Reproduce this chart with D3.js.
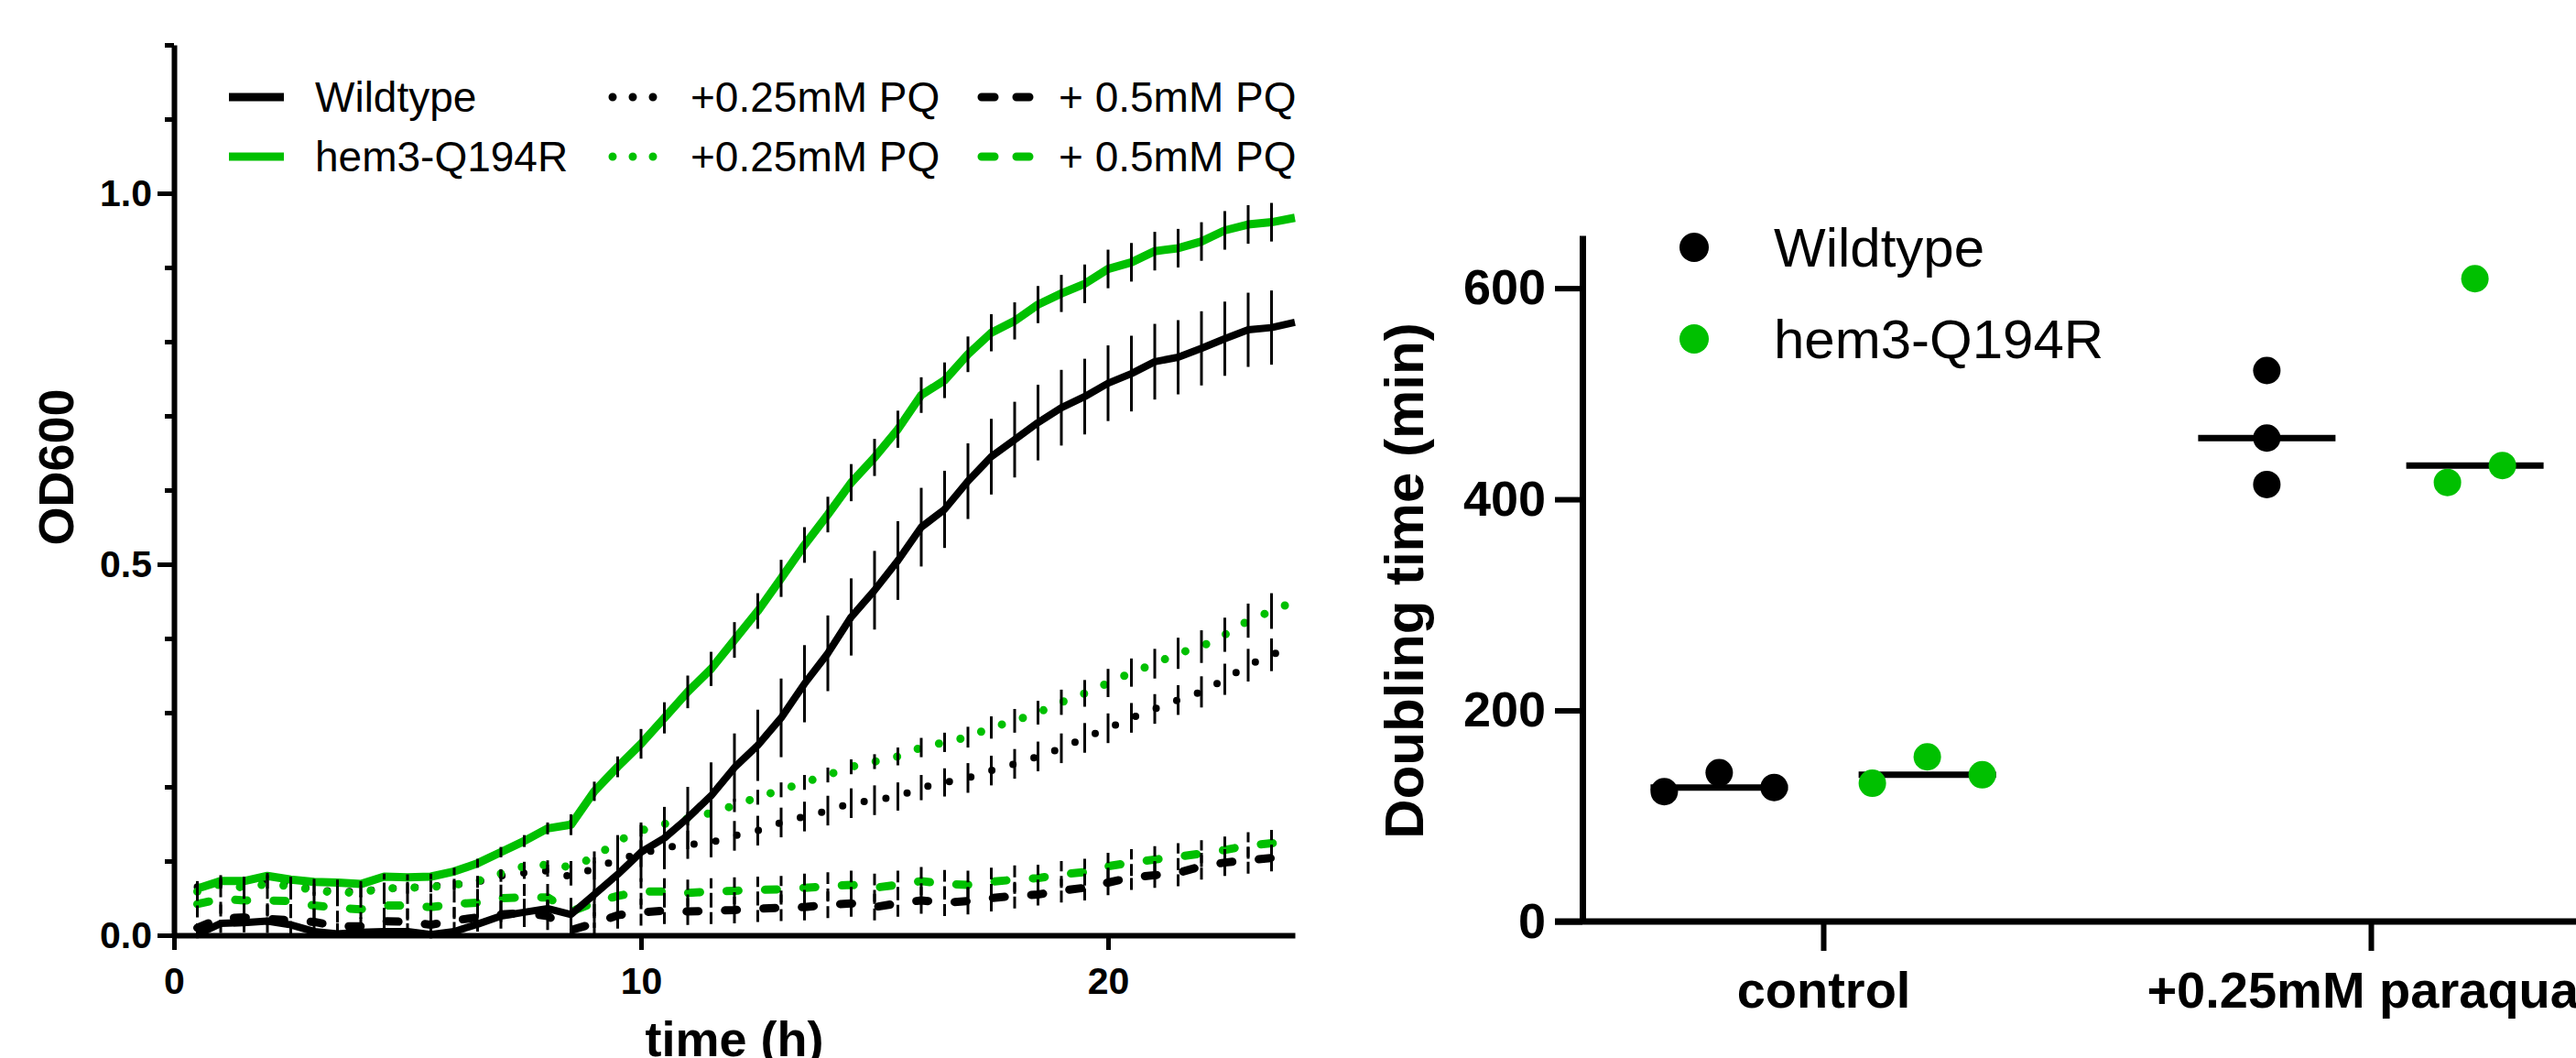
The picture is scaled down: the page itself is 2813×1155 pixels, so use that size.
<!DOCTYPE html>
<html>
<head>
<meta charset="utf-8">
<script src="https://cdn.jsdelivr.net/npm/d3@7"></script>
<style>
  body { margin: 0; background: #fff; }
  svg { display: block; font-family: "Liberation Sans", Arial, sans-serif; }
</style>
</head>
<body>
<svg id="chart" width="2813" height="1155"></svg>
<script>
// ---- growth curves (OD600 vs time) ----
var times = [0.5,1,1.5,2,2.5,3,3.5,4,4.5,5,5.5,6,6.5,7,7.5,8,8.5,9,9.5,10,10.5,11,11.5,12,
             12.5,13,13.5,14,14.5,15,15.5,16,16.5,17,17.5,18,18.5,19,19.5,20,20.5,21,21.5,22,22.5,23,23.5,24];

var wtOD = [0.001,0.016,0.017,0.019,0.014,0.005,0.002,0.004,0.005,0.005,0.001,0.005,0.015,0.026,0.031,0.036,0.028,
            0.055,0.082,0.112,0.131,0.158,0.188,0.226,0.256,0.293,0.339,0.380,0.429,0.465,0.505,0.550,0.574,0.612,
            0.645,0.668,0.691,0.711,0.726,0.744,0.757,0.773,0.779,0.791,0.804,0.816,0.819,0.826];
var wtErr = [0.005,0.005,0.005,0.005,0.005,0.005,0.005,0.005,0.005,0.005,0.005,0.005,0.005,0.008,0.010,0.012,0.020,
             0.045,0.046,0.040,0.042,0.042,0.045,0.046,0.048,0.053,0.052,0.051,0.052,0.053,0.053,0.053,0.052,0.051,
             0.051,0.051,0.051,0.051,0.051,0.051,0.051,0.051,0.050,0.050,0.050,0.050,0.050,0];

var hemOD = [0.063,0.073,0.073,0.080,0.075,0.072,0.071,0.069,0.079,0.078,0.079,0.086,0.097,0.112,0.127,0.144,0.149,
             0.194,0.227,0.258,0.293,0.328,0.359,0.398,0.437,0.481,0.526,0.567,0.610,0.644,0.682,0.728,0.748,0.783,
             0.812,0.828,0.850,0.865,0.878,0.898,0.907,0.922,0.926,0.935,0.950,0.958,0.961,0.967];
var hemErr = [0.004,0.004,0.004,0.004,0.004,0.004,0.004,0.004,0.004,0.004,0.004,0.005,0.006,0.007,0.008,0.008,0.014,
              0.013,0.014,0.020,0.021,0.022,0.023,0.024,0.024,0.025,0.024,0.024,0.025,0.025,0.025,0.024,0.024,0.024,
              0.025,0.025,0.025,0.025,0.026,0.026,0.026,0.026,0.026,0.026,0.026,0.026,0.026,0];

var wtPQ25 = [0.065,0.073,0.071,0.073,0.069,0.061,0.059,0.059,0.063,0.064,0.066,0.068,0.072,0.080,0.084,0.087,0.079,
              0.090,0.102,0.110,0.118,0.122,0.125,0.134,0.141,0.152,0.160,0.168,0.178,0.182,0.187,0.199,0.206,0.212,
              0.222,0.231,0.241,0.252,0.266,0.279,0.293,0.305,0.317,0.328,0.345,0.364,0.378,0.390];
var wtPQ25Err = [0.008,0.008,0.008,0.008,0.008,0.008,0.008,0.008,0.008,0.008,0.008,0.008,0.008,0.008,0.008,0.008,0.012,
                 0.015,0.016,0.018,0.019,0.019,0.020,0.020,0.020,0.020,0.020,0.020,0.020,0.020,0.019,0.017,0.019,0.020,
                 0.020,0.020,0.020,0.020,0.020,0.020,0.020,0.020,0.020,0.021,0.021,0.022,0.022,0];

var hemPQ25 = [0.059,0.069,0.064,0.069,0.066,0.061,0.057,0.058,0.063,0.064,0.065,0.068,0.073,0.083,0.093,0.095,0.092,
               0.105,0.127,0.141,0.150,0.157,0.165,0.175,0.186,0.196,0.206,0.216,0.227,0.234,0.241,0.253,0.260,0.267,
               0.280,0.289,0.300,0.314,0.326,0.340,0.354,0.366,0.380,0.389,0.405,0.424,0.437,0.450];
var hemPQ25Err = [0.006,0.006,0.006,0.006,0.006,0.006,0.006,0.006,0.006,0.006,0.006,0.006,0.006,0.006,0.006,0.006,0.008,
                  0.008,0.008,0.008,0.009,0.009,0.009,0.009,0.010,0.010,0.010,0.010,0.010,0.010,0.012,0.013,0.013,0.014,
                  0.015,0.016,0.016,0.017,0.018,0.019,0.019,0.020,0.021,0.022,0.023,0.023,0.024,0];

var wtPQ5 = [0.010,0.023,0.024,0.022,0.020,0.018,0.012,0.012,0.019,0.018,0.014,0.020,0.024,0.028,0.030,0.026,0.007,
             0.016,0.027,0.031,0.033,0.032,0.033,0.034,0.036,0.037,0.038,0.041,0.043,0.038,0.043,0.047,0.044,0.046,
             0.050,0.053,0.055,0.060,0.064,0.071,0.078,0.081,0.084,0.093,0.098,0.101,0.104,0.106];
var wtPQ5Err = [0.010,0.020,0.020,0.019,0.019,0.018,0.012,0.012,0.018,0.018,0.014,0.018,0.019,0.019,0.019,0.019,0.007,
                0.015,0.018,0.018,0.018,0.018,0.018,0.018,0.018,0.018,0.018,0.018,0.018,0.018,0.018,0.018,0.018,0.018,
                0.018,0.017,0.015,0.016,0.017,0.017,0.017,0.017,0.018,0.018,0.018,0.018,0.018,0];

var hemPQ5 = [0.042,0.049,0.047,0.047,0.046,0.040,0.037,0.035,0.040,0.040,0.038,0.042,0.044,0.050,0.051,0.051,0.032,
              0.044,0.053,0.059,0.059,0.057,0.059,0.060,0.061,0.062,0.064,0.066,0.068,0.064,0.068,0.073,0.069,0.068,
              0.072,0.075,0.077,0.082,0.085,0.093,0.098,0.102,0.106,0.110,0.115,0.121,0.124,0.125];
var hemPQ5Err = [0.018,0.020,0.020,0.020,0.020,0.020,0.020,0.020,0.020,0.020,0.020,0.020,0.020,0.020,0.020,0.020,0.020,
                 0.018,0.018,0.018,0.018,0.018,0.018,0.018,0.018,0.018,0.019,0.019,0.019,0.019,0.019,0.019,0.019,0.019,
                 0.019,0.019,0.018,0.018,0.018,0.018,0.018,0.018,0.018,0.018,0.018,0.018,0.018,0];

var odTicks = [0, 0.5, 1.0];
var odMinor = [0.1,0.2,0.3,0.4,0.6,0.7,0.8,0.9,1.1,1.2];
var timeTicks = [0, 10, 20];

// ---- doubling times ----
var groups = ["control", "+0.25mM paraquat"];
var wtDoubling = [[123, 141, 127], [522, 458, 414]];
var hemDoubling = [[131, 156, 139], [416, 609, 432]];
var dtTicks = [0, 200, 400, 600];

var GREEN = "#00c000";
var svg = d3.select("#chart");
svg.append("rect").attr("width", 2813).attr("height", 1155).attr("fill", "#fff");

// ===================== left panel =====================
var xT = d3.scaleLinear().domain([0, 24]).range([190, 1414]);
var yOD = d3.scaleLinear().domain([0, 1.2]).range([1021, 49]);

// series: values, errors, colour, line style, width
var series = [
  {v: wtPQ5, e: wtPQ5Err, c: "#000", s: "dash", w: 9},
  {v: hemPQ5, e: hemPQ5Err, c: GREEN, s: "dash", w: 9},
  {v: wtPQ25, e: wtPQ25Err, c: "#000", s: "dot", w: 8},
  {v: hemPQ25, e: hemPQ25Err, c: GREEN, s: "dot", w: 9},
  {v: hemOD, e: hemErr, c: GREEN, s: "solid", w: 9},
  {v: wtOD, e: wtErr, c: "#000", s: "solid", w: 8}
];

function dashFor(s) {
  if (s == "dot") return "0,24";
  if (s == "dash") return "13,29";
  return null;
}

var line = d3.line()
  .x(function(d) { return xT(d[0]); })
  .y(function(d) { return yOD(d[1]); });

var left = svg.append("g");

series.forEach(function(sr) {
  var pts = times.map(function(t, i) { return [t, sr.v[i]]; });
  left.append("path")
    .attr("d", line(pts))
    .attr("fill", "none")
    .attr("stroke", sr.c)
    .attr("stroke-width", sr.w)
    .attr("stroke-linecap", sr.s == "solid" ? "butt" : "round")
    .attr("stroke-linejoin", "round")
    .attr("stroke-dasharray", dashFor(sr.s));
});

// error bars (no caps), drawn on top
series.forEach(function(sr) {
  left.append("g").selectAll("line")
    .data(times.map(function(t, i) { return {t: t, v: sr.v[i], e: sr.e[i]}; }).filter(function(d) { return d.e > 0; }))
    .enter().append("line")
    .attr("x1", function(d) { return xT(d.t); })
    .attr("x2", function(d) { return xT(d.t); })
    .attr("y1", function(d) { return yOD(d.v - d.e); })
    .attr("y2", function(d) { return yOD(d.v + d.e); })
    .attr("stroke", "#000")
    .attr("stroke-width", 3)
    .attr("stroke-dasharray", sr.s == "dash" ? "13,5" : null);
});

// axes
var yAxisL = left.append("g").attr("transform", "translate(190,0)")
  .call(d3.axisLeft(yOD).tickValues(odTicks).tickFormat(d3.format(".1f")).tickSize(18).tickPadding(6).tickSizeOuter(0));
left.append("g").attr("transform", "translate(190,0)")
  .call(d3.axisLeft(yOD).tickValues(odMinor).tickFormat("").tickSize(10).tickSizeOuter(0))
  .select(".domain").remove();

var xAxisL = left.append("g").attr("transform", "translate(0,1021)")
  .call(d3.axisBottom(xT).tickValues(timeTicks).tickSize(16).tickSizeOuter(0));
xAxisL.selectAll("text").attr("dy", null).attr("y", 64);

left.selectAll(".domain").attr("stroke-width", 6);
left.selectAll(".tick line").attr("stroke-width", 5);
left.selectAll(".tick text")
  .attr("font-family", "Liberation Sans, Arial, sans-serif")
  .attr("font-weight", "bold").attr("font-size", 41).attr("fill", "#000");

left.append("text")
  .attr("transform", "translate(80,510) rotate(-90)")
  .attr("text-anchor", "middle")
  .attr("font-weight", "bold").attr("font-size", 54)
  .text("OD600");

left.append("text")
  .attr("x", 802).attr("y", 1153)
  .attr("text-anchor", "middle")
  .attr("font-weight", "bold").attr("font-size", 54)
  .text("time (h)");

// legend
var legendRows = [{label: "Wildtype", c: "#000"}, {label: "hem3-Q194R", c: GREEN}];
var legendCols = [
  {s: "solid", x: 250, tx: 344, text: function(r) { return r.label; }},
  {s: "dot", x: 665, tx: 754, text: function() { return "+0.25mM PQ"; }},
  {s: "dash", x: 1068, tx: 1156, text: function() { return "+ 0.5mM PQ"; }}
];
legendRows.forEach(function(r, ri) {
  var cy = 106 + ri * 65;
  legendCols.forEach(function(col) {
    left.append("line")
      .attr("x1", col.x + (col.s == "solid" ? 0 : 4)).attr("x2", col.x + 60)
      .attr("y1", cy).attr("y2", cy)
      .attr("stroke", r.c).attr("stroke-width", 9)
      .attr("stroke-linecap", col.s == "solid" ? "butt" : "round")
      .attr("stroke-dasharray", col.s == "dot" ? "0,22" : (col.s == "dash" ? "14,24" : null));
    left.append("text")
      .attr("x", col.tx).attr("y", cy + 16)
      .attr("font-size", 46)
      .text(col.text(r));
  });
});

// ===================== right panel =====================
var xG = d3.scalePoint().domain(groups).range([1991, 2589]);
var yDT = d3.scaleLinear().domain([0, 650]).range([1006, 257]);
var step = xG.step();
var groupOffset = 0.19 * step;
var spread = 60;
var dotR = 15;

var right = svg.append("g");

// spread points that would overlap vertically, in data order
function jitter(vals) {
  var idx = vals.map(function(v, i) { return i; }).sort(function(a, b) { return vals[a] - vals[b]; });
  var clusters = [], cur = [idx[0]];
  for (var k = 1; k < idx.length; k++) {
    var prev = cur[cur.length - 1];
    if (Math.abs(yDT(vals[idx[k]]) - yDT(vals[prev])) < 2 * dotR) cur.push(idx[k]);
    else { clusters.push(cur); cur = [idx[k]]; }
  }
  clusters.push(cur);
  var off = vals.map(function() { return 0; });
  clusters.forEach(function(cl) {
    cl.sort(function(a, b) { return a - b; });
    cl.forEach(function(i, j) { off[i] = (j - (cl.length - 1) / 2) * spread; });
  });
  return off;
}

var strains = [{vals: wtDoubling, c: "#000", side: -1}, {vals: hemDoubling, c: GREEN, side: 1}];
strains.forEach(function(st) {
  groups.forEach(function(g, gi) {
    var vals = st.vals[gi];
    var cx = xG(g) + st.side * groupOffset;
    var off = jitter(vals);
    right.append("line")
      .attr("x1", cx - 75).attr("x2", cx + 75)
      .attr("y1", yDT(d3.median(vals))).attr("y2", yDT(d3.median(vals)))
      .attr("stroke", "#000").attr("stroke-width", 7);
    right.append("g").selectAll("circle")
      .data(vals).enter().append("circle")
      .attr("cx", function(d, i) { return cx + off[i]; })
      .attr("cy", function(d) { return yDT(d); })
      .attr("r", dotR)
      .attr("fill", st.c);
  });
});

var yAxisR = right.append("g").attr("transform", "translate(1728,0)")
  .call(d3.axisLeft(yDT).tickValues(dtTicks).tickSize(30).tickPadding(10).tickSizeOuter(0));
right.append("line")
  .attr("x1", 1698).attr("x2", 2813).attr("y1", 1006).attr("y2", 1006)
  .attr("stroke", "#000").attr("stroke-width", 7);
var xAxisR = right.append("g").attr("transform", "translate(0,1006)")
  .call(d3.axisBottom(xG).tickSize(32).tickSizeOuter(0));
xAxisR.select(".domain").remove();
xAxisR.selectAll("text").attr("dy", null).attr("y", 94).attr("font-size", 56);
yAxisR.selectAll("text").attr("font-size", 54);

right.selectAll(".domain").attr("stroke-width", 7);
right.selectAll(".tick line").attr("stroke-width", 6);
right.selectAll(".tick text")
  .attr("font-family", "Liberation Sans, Arial, sans-serif")
  .attr("font-weight", "bold").attr("fill", "#000");

right.append("text")
  .attr("transform", "translate(1554,634) rotate(-90)")
  .attr("text-anchor", "middle")
  .attr("font-weight", "bold").attr("font-size", 60)
  .text("Doubling time (min)");

strains.forEach(function(st, i) {
  var cy = 270 + i * 100;
  right.append("circle").attr("cx", 1850).attr("cy", cy).attr("r", 16).attr("fill", st.c);
  right.append("text").attr("x", 1937).attr("y", cy + 21)
    .attr("font-size", 60)
    .text(legendRows[i].label);
});
</script>
</body>
</html>
